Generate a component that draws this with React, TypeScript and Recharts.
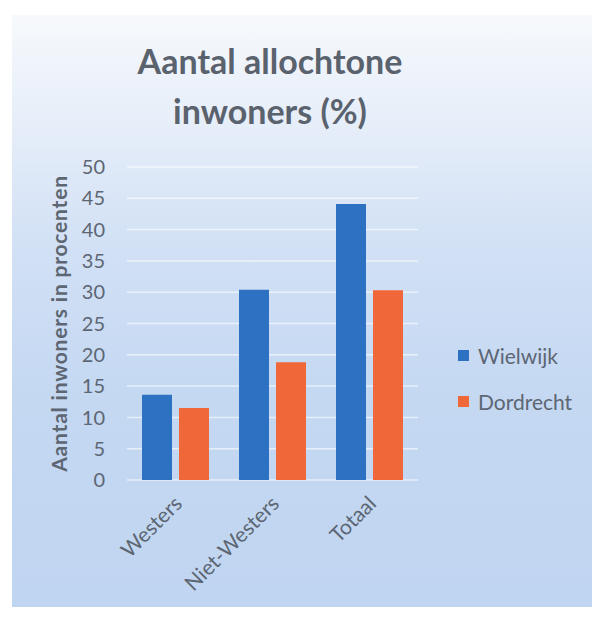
import React from "react";
import { BarChart, Bar, XAxis, YAxis, CartesianGrid, Legend } from "recharts";

const categories = ["Westers", "Niet-Westers", "Totaal"];
const wielwijk = [13.6, 30.4, 44.1];
const dordrecht = [11.5, 18.8, 30.3];
const yTicks = [0, 5, 10, 15, 20, 25, 30, 35, 40, 45, 50];
const seriesNames = ["Wielwijk", "Dordrecht"];
const seriesColors = ["#2d71c2", "#f0673a"];

const data = categories.map((c, i) => ({
  name: c,
  Wielwijk: wielwijk[i],
  Dordrecht: dordrecht[i],
}));

const FONT = "Lato, 'Open Sans', sans-serif";
const TEXT = "#5d6673";

const XTick = (props: any) => {
  const { x, y, payload } = props;
  return (
    <g transform={`translate(${x + 8},${y + 17})`}>
      <text
        textAnchor="end"
        transform="rotate(-45)"
        fill={TEXT}
        fontSize={21}
        fontFamily={FONT}
      >
        {payload.value}
      </text>
    </g>
  );
};

const LegendContent = () => (
  <div style={{ fontFamily: FONT, fontSize: 21, color: TEXT, width: 130 }}>
    {seriesNames.map((n, i) => (
      <div
        key={n}
        style={{ display: "flex", alignItems: "center", height: 46 }}
      >
        <span
          style={{
            display: "inline-block",
            width: 11,
            height: 11,
            background: seriesColors[i],
            marginRight: 9,
          }}
        />
        <span>{n}</span>
      </div>
    ))}
  </div>
);

export default function App() {
  return (
    <div
      style={{
        position: "absolute",
        left: 0,
        top: 0,
        width: 592,
        height: 620,
        background: "#ffffff",
        overflow: "hidden",
      }}
    >
      <div
        style={{
          position: "absolute",
          left: 12,
          top: 15,
          width: 580,
          height: 592,
          background:
            "linear-gradient(180deg, #f7f9fc 0%, #e6eef9 18%, #d1e0f5 40%, #c4d8f2 65%, #c0d5f1 100%)",
        }}
      />
      <div
        style={{
          position: "absolute",
          left: 0,
          top: 36,
          width: 592,
          textAlign: "center",
          fontFamily: FONT,
          fontWeight: 700,
          fontSize: 34,
          lineHeight: "50px",
          color: "#5a626e",
          paddingRight: 52,
          boxSizing: "border-box",
        }}
      >
        Aantal allochtone
        <br />
        inwoners (%)
      </div>
      <div style={{ position: "absolute", left: 0, top: 0 }}>
        <BarChart
          width={592}
          height={620}
          data={data}
          margin={{ top: 167, right: 44, bottom: 0, left: 0 }}
          barCategoryGap={15}
          barGap={7}
          barSize={30}
        >
          <CartesianGrid
            vertical={false}
            stroke="rgba(255,255,255,0.6)"
            strokeWidth={1.5}
          />
          <XAxis
            dataKey="name"
            axisLine={false}
            tickLine={false}
            tick={<XTick />}
            interval={0}
            height={140}
          />
          <YAxis
            width={127}
            domain={[0, 50]}
            ticks={yTicks}
            axisLine={false}
            tickLine={false}
            tickMargin={16}
            interval={0}
            tick={{ fill: TEXT, fontSize: 20, fontFamily: FONT }}
            label={{
              value: "Aantal inwoners in procenten",
              angle: -90,
              position: "center",
              dx: -4,
              fill: TEXT,
              fontSize: 21,
              fontWeight: 700,
              letterSpacing: 0.8,
              fontFamily: FONT,
            }}
          />
          <Legend
            layout="vertical"
            align="right"
            verticalAlign="middle"
            content={<LegendContent />}
            wrapperStyle={{ position: "absolute", left: 458, top: 332, width: 130 }}
          />
          <Bar
            dataKey="Wielwijk"
            fill={seriesColors[0]}
            isAnimationActive={false}
          />
          <Bar
            dataKey="Dordrecht"
            fill={seriesColors[1]}
            isAnimationActive={false}
          />
        </BarChart>
      </div>
    </div>
  );
}
